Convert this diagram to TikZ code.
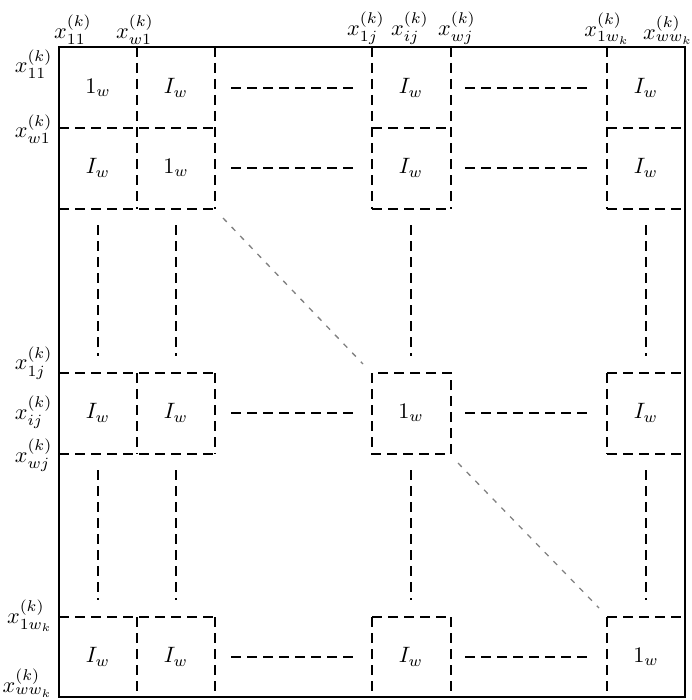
\documentclass[tikz,border=0pt]{standalone}
\usepackage{amsmath,amssymb}
\usepackage{xcolor}
\usepackage{tikz}

\tikzset{
  blockline/.style={dashed, dash pattern=on 4.5pt off 2.7pt, line width=0.6pt},
  dotsline/.style={dash pattern=on 2.4pt off 3.2pt, line width=0.6pt, gray},
  entry/.style={inner sep=0pt}
}

\begin{document}
\begin{tikzpicture}[x=0.45pt, y=-0.45pt]
    \useasboundingbox (0,0) rectangle (691,700);
    % outer frame
    \draw[line width=0.9pt] (59,47) rectangle (685,697);
    % top block row
    \draw[blockline] (59,128) -- (215,128);
    \draw[blockline] (59,209) -- (215,209);
    \draw[blockline] (137,47) -- (137,209);
    \draw[blockline] (215,47) -- (215,209);
    \draw[blockline] (372,47) -- (372,209);
    \draw[blockline] (451,47) -- (451,209);
    \draw[blockline] (372,128) -- (451,128);
    \draw[blockline] (372,209) -- (451,209);
    \draw[blockline] (607,47) -- (607,209);
    \draw[blockline] (607,128) -- (685,128);
    \draw[blockline] (607,209) -- (685,209);
    % middle block row
    \draw[blockline] (59,373) -- (215,373);
    \draw[blockline] (59,454) -- (215,454);
    \draw[blockline] (137,373) -- (137,454);
    \draw[blockline] (215,373) -- (215,454);
    \draw[blockline] (372,373) rectangle (451,454);
    \draw[blockline] (607,373) -- (685,373);
    \draw[blockline] (607,454) -- (685,454);
    \draw[blockline] (607,373) -- (607,454);
    % bottom block row
    \draw[blockline] (59,617) -- (215,617);
    \draw[blockline] (137,617) -- (137,697);
    \draw[blockline] (215,617) -- (215,697);
    \draw[blockline] (372,617) -- (451,617);
    \draw[blockline] (372,617) -- (372,697);
    \draw[blockline] (451,617) -- (451,697);
    \draw[blockline] (607,617) -- (685,617);
    \draw[blockline] (607,617) -- (607,697);
    % horizontal gaps
    \draw[blockline] (231,88) -- (358,88);   \draw[blockline] (465,88) -- (591,88);
    \draw[blockline] (231,168) -- (358,168); \draw[blockline] (465,168) -- (591,168);
    \draw[blockline] (231,413) -- (358,413); \draw[blockline] (465,413) -- (591,413);
    \draw[blockline] (231,657) -- (358,657); \draw[blockline] (465,657) -- (591,657);
    % vertical gaps
    \draw[blockline] (98,225) -- (98,356);   \draw[blockline] (98,470) -- (98,600);
    \draw[blockline] (176,225) -- (176,356); \draw[blockline] (176,470) -- (176,600);
    \draw[blockline] (411,225) -- (411,356); \draw[blockline] (411,470) -- (411,600);
    \draw[blockline] (646,225) -- (646,356); \draw[blockline] (646,470) -- (646,600);
    % diagonal dots
    \coordinate (d1s) at (223,218); \coordinate (d1e) at (363,364);
    \coordinate (d2s) at (458,463); \coordinate (d2e) at (599,608);
    \draw[dotsline] (d1s) -- (d1e);
    \draw[dotsline] (d2s) -- (d2e);
    % block entries
    \node[entry] (e11) at (98,88) {$1_w$};
    \node[entry] (e12) at (176,88) {$I_w$};
    \node[entry] (e13) at (411,88) {$I_w$};
    \node[entry] (e14) at (646,88) {$I_w$};
    \node[entry] (e21) at (98,168) {$I_w$};
    \node[entry] (e22) at (176,168) {$1_w$};
    \node[entry] (e23) at (411,168) {$I_w$};
    \node[entry] (e24) at (646,168) {$I_w$};
    \node[entry] (e31) at (98,413) {$I_w$};
    \node[entry] (e32) at (176,413) {$I_w$};
    \node[entry] (e33) at (411,413) {$1_w$};
    \node[entry] (e34) at (646,413) {$I_w$};
    \node[entry] (e41) at (98,657) {$I_w$};
    \node[entry] (e42) at (176,657) {$I_w$};
    \node[entry] (e43) at (411,657) {$I_w$};
    \node[entry] (e44) at (646,657) {$1_w$};
    % column labels
    \node[above, inner sep=1pt] (c11) at (73,47) {$x_{11}^{(k)}$};
    \node[above, inner sep=1pt] (cw1) at (135,47) {$x_{w1}^{(k)}$};
    \node[above, inner sep=1pt] (c1j) at (366,47) {$x_{1j}^{(k)}$};
    \node[above, inner sep=1pt] (cij) at (410,47) {$x_{ij}^{(k)}$};
    \node[above, inner sep=1pt] (cwj) at (457,47) {$x_{wj}^{(k)}$};
    \node[above, inner sep=1pt] (c1wk) at (607,47) {$x_{1w_k}^{(k)}$};
    \node[above, inner sep=1pt] (cwwk) at (668,47) {$x_{ww_k}^{(k)}$};
    % row labels
    \node[left, inner sep=1pt] (r11) at (55,64) {$x_{11}^{(k)}$};
    \node[left, inner sep=1pt] (rw1) at (55,129) {$x_{w1}^{(k)}$};
    \node[left, inner sep=1pt] (r1j) at (55,363) {$x_{1j}^{(k)}$};
    \node[left, inner sep=1pt] (rij) at (55,412) {$x_{ij}^{(k)}$};
    \node[left, inner sep=1pt] (rwj) at (55,455) {$x_{wj}^{(k)}$};
    \node[left, inner sep=1pt] (r1wk) at (55,616) {$x_{1w_k}^{(k)}$};
    \node[left, inner sep=1pt] (rwwk) at (55,683) {$x_{ww_k}^{(k)}$};
\end{tikzpicture}
\end{document}
